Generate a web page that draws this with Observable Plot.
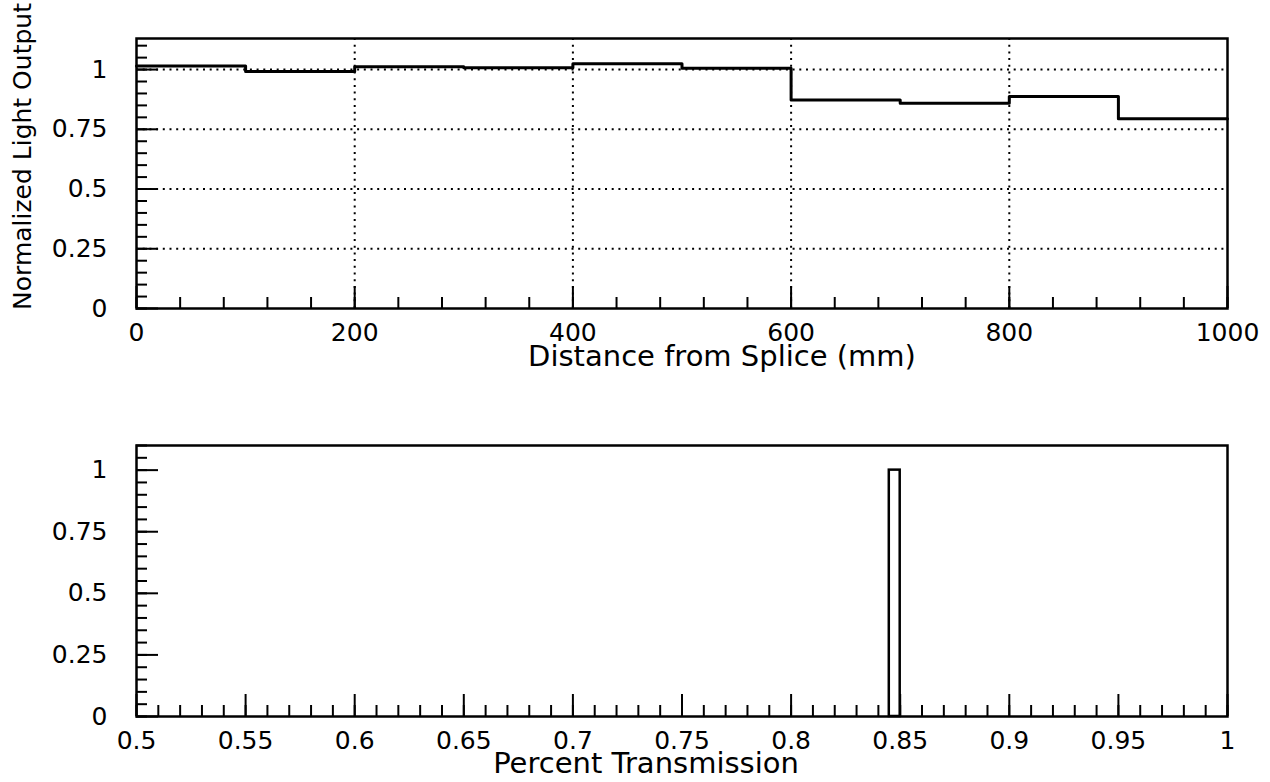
<!DOCTYPE html>
<html><head><meta charset="utf-8">
<script src="https://cdn.jsdelivr.net/npm/d3@7"></script>
<script src="https://cdn.jsdelivr.net/npm/@observablehq/plot@0.6"></script>
<style>body{margin:0;background:#fff} #c svg{display:block}</style>
</head><body><div id="c"></div>
<script>
// ---- data: top panel (histogram of normalized light output vs distance) ----
const binStart = [0, 100, 200, 300, 400, 500, 600, 700, 800, 900];
const binEnd = [100, 200, 300, 400, 500, 600, 700, 800, 900, 1000];
const lightOutput = [1.015, 0.992, 1.012, 1.008, 1.024, 1.006, 0.873, 0.859, 0.887, 0.794];
const xTicksTop = [0, 200, 400, 600, 800, 1000];
const gridXTop = [200, 400, 600, 800];
const yTickLabels = [0, 0.25, 0.5, 0.75, 1];
const gridYTop = [0.25, 0.5, 0.75, 1];

// ---- data: bottom panel (histogram of percent transmission) ----
const transLo = [0.845];
const transHi = [0.85];
const transCount = [1];
const xTicksBottom = [0.5, 0.55, 0.6, 0.65, 0.7, 0.75, 0.8, 0.85, 0.9, 0.95, 1];

// minor tick positions
const minorXTop = d3.range(0, 1001, 40);
const minorY = d3.range(0, 23).map(i => i * 0.05);
const minorXBottom = d3.range(50, 101).map(i => i / 100);

const stepPts = binStart.flatMap((s, i) => [{x: s, y: lightOutput[i]}, {x: binEnd[i], y: lightOutput[i]}]);

const FONT = "DejaVu Sans";
const dots = {stroke: "#000", strokeWidth: 2, strokeDasharray: "2,4.7"};

const FW = 1270 - 136 - 43;

const topPlot = Plot.plot({
  width: 1270, height: 400,
  marginLeft: 136, marginRight: 43, marginTop: 38, marginBottom: 92,
  style: {fontFamily: FONT, fontSize: "25px", color: "#000", background: "#fff"},
  x: {domain: [0, 1000]},
  y: {domain: [0, 1.13]},
  marks: [
    Plot.ruleX(gridXTop, dots),
    Plot.ruleY(gridYTop, dots),
    Plot.tickX(minorXTop, {x: d => d, insetTop: 270 - 11, strokeWidth: 2}),
    Plot.tickX(xTicksTop, {x: d => d, insetTop: 270 - 22, strokeWidth: 2}),
    Plot.tickY(minorY.filter(d => d <= 1.13), {y: d => d, insetRight: FW - 11, strokeWidth: 2}),
    Plot.tickY(yTickLabels, {y: d => d, insetRight: FW - 22, strokeWidth: 2}),
    Plot.line(stepPts, {x: "x", y: "y", stroke: "#000", strokeWidth: 3}),
    Plot.frame({stroke: "#000", strokeWidth: 2.5}),
    Plot.axisX({ticks: xTicksTop, tickSize: 0, tickPadding: 15, fontSize: 25, label: null, tickFormat: d => String(d)}),
    Plot.axisY({ticks: yTickLabels, tickSize: 0, tickPadding: 29, fontSize: 25, label: null, tickFormat: d => String(d)}),
    Plot.text(["Distance from Splice (mm)"], {frameAnchor: "bottom", lineAnchor: "top", textAnchor: "middle", dy: 37, dx: 40, fontSize: 29, fill: "#000"}),
    Plot.text(["Normalized Light Output"], {frameAnchor: "left", rotate: -90, lineAnchor: "top", textAnchor: "middle", dx: -123, dy: -17, fontSize: 25, fill: "#000"})
  ]
});

const botPlot = Plot.plot({
  width: 1270, height: 382,
  marginLeft: 136, marginRight: 43, marginTop: 45, marginBottom: 66,
  style: {fontFamily: FONT, fontSize: "25px", color: "#000", background: "#fff"},
  x: {domain: [0.5, 1]},
  y: {domain: [0, 1.1]},
  marks: [
    Plot.tickX(minorXBottom, {x: d => d, insetTop: 271 - 11, strokeWidth: 2}),
    Plot.tickX(xTicksBottom, {x: d => d, insetTop: 271 - 22, strokeWidth: 2}),
    Plot.tickY(minorY.filter(d => d <= 1.1), {y: d => d, insetRight: FW - 11, strokeWidth: 2}),
    Plot.tickY(yTickLabels, {y: d => d, insetRight: FW - 22, strokeWidth: 2}),
    Plot.rect(transLo.map((lo, i) => ({lo, hi: transHi[i], n: transCount[i]})), {x1: "lo", x2: "hi", y1: 0, y2: "n", fill: "none", stroke: "#000", strokeWidth: 2.5}),
    Plot.frame({stroke: "#000", strokeWidth: 2.5}),
    Plot.axisX({ticks: xTicksBottom, tickSize: 0, tickPadding: 15, fontSize: 25, label: null, tickFormat: d => String(d)}),
    Plot.axisY({ticks: yTickLabels, tickSize: 0, tickPadding: 29, fontSize: 25, label: null, tickFormat: d => String(d)}),
    Plot.text(["Percent Transmission"], {frameAnchor: "bottom", lineAnchor: "top", textAnchor: "middle", dy: 36, dx: -36, fontSize: 29, fill: "#000"})
  ]
});

document.getElementById("c").append(topPlot, botPlot);
</script>
</body></html>
